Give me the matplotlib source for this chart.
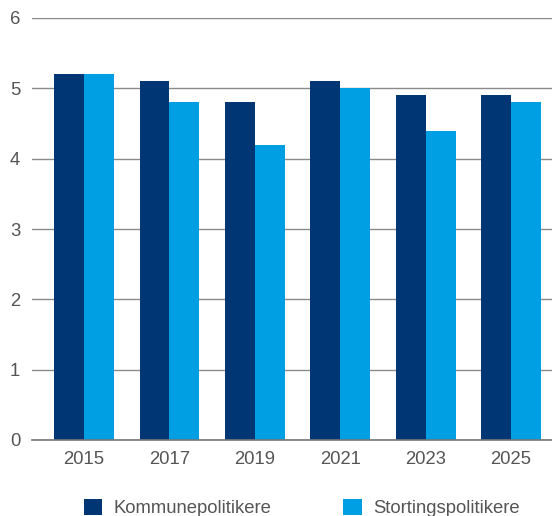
import matplotlib
matplotlib.use("Agg")
import matplotlib.pyplot as plt
import numpy as np

years = ["2015", "2017", "2019", "2021", "2023", "2025"]
kommune = [5.2, 5.1, 4.8, 5.1, 4.9, 4.9]
storting = [5.2, 4.8, 4.2, 5.0, 4.4, 4.8]
series_names = ["Kommunepolitikere", "Stortingspolitikere"]

DARK = "#003673"
LIGHT = "#009fe3"
TEXT = "#555555"

plt.rcParams["font.family"] = ["Liberation Sans", "DejaVu Sans"]

fig = plt.figure(figsize=(5.52, 5.16), dpi=100)
ax = fig.add_axes([32 / 552, 76 / 516, 520 / 552, 422 / 516])

x = np.arange(len(years))
w = 0.351
ax.bar(x - w / 2, kommune, w, color=DARK, label=series_names[0], zorder=2)
ax.bar(x + w / 2, storting, w, color=LIGHT, label=series_names[1], zorder=2)

ax.set_xlim(-0.61, 5.48)
ax.set_ylim(0, 6)
ax.set_yticks(range(0, 7))
ax.set_xticks(x)
ax.set_xticklabels(years)
ax.yaxis.grid(True, color="#8a8a8a", lw=1.0, zorder=1)
ax.tick_params(axis="both", length=0, labelsize=13.3, colors=TEXT)
ax.tick_params(axis="x", pad=8)
ax.tick_params(axis="y", pad=8.5)
for s in ["top", "right", "left"]:
    ax.spines[s].set_visible(False)
ax.spines["bottom"].set_color("#777777")
ax.spines["bottom"].set_linewidth(1.2)

leg = fig.legend(loc="center left", bbox_to_anchor=(84 / 552, 8 / 516), ncol=2,
                 frameon=False, fontsize=13.3, handlelength=1.0, handleheight=1.0,
                 handletextpad=0.6, columnspacing=3.9, borderpad=0, borderaxespad=0)
for t in leg.get_texts():
    t.set_color(TEXT)

fig.savefig("out.png", dpi=100)
